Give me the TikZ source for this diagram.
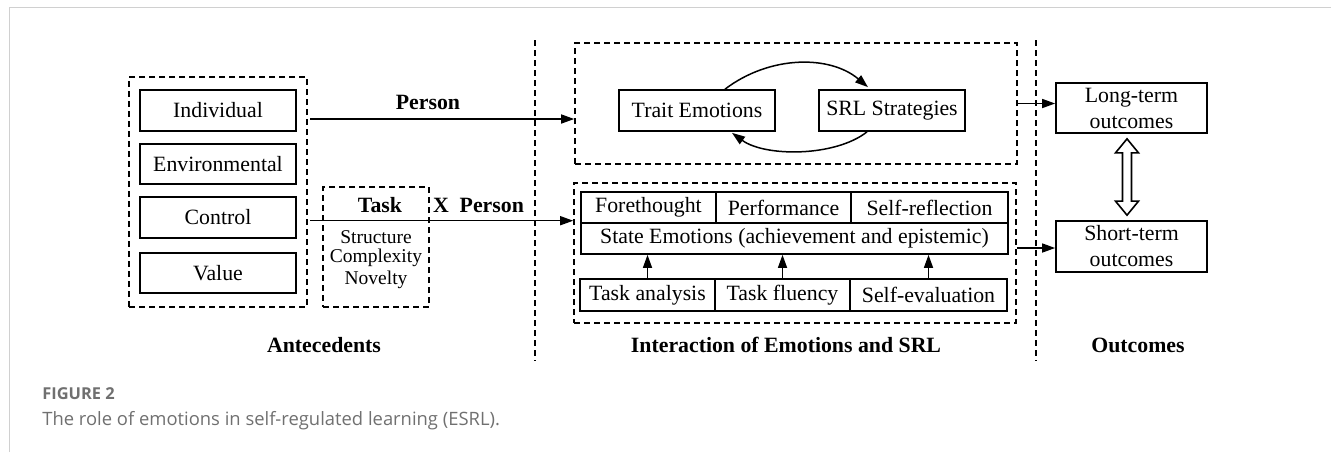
\documentclass[tikz,border=0pt]{standalone}
\usepackage{fontspec}
\setmainfont{Liberation Serif}
\newfontfamily\capfont{Open Sans}
\usetikzlibrary{calc,arrows.meta}
\definecolor{capgray}{HTML}{707070}
\definecolor{framegray}{HTML}{D0D0D0}
\begin{document}
\begin{tikzpicture}[x=0.5pt,y=-0.5pt,
  txt/.style={font=\fontsize{10.9}{13}\selectfont},
  bx/.style={draw, line width=0.85pt, inner sep=0pt, txt, align=center},
  dbox/.style={draw, line width=0.8pt, dash pattern=on 3pt off 2pt, inner sep=0pt},
  dline/.style={line width=0.8pt, dash pattern=on 3pt off 2pt},
  lbl/.style={font=\fontsize{10.9}{13}\selectfont\bfseries, inner sep=0pt},
  arr/.style={line width=0.75pt, -{Triangle[length=6.5pt,width=4.5pt]}},
  small/.style={font=\fontsize{9.75}{11}\selectfont, inner sep=0pt}
]
\useasboundingbox (0,0) rectangle (1331,452);
% frame
\draw[framegray, line width=0.8pt] (9.5,452) -- (9.5,7.5) -- (1331,7.5);

% Antecedents
\node[dbox, minimum width=89pt, minimum height=115pt] (ant) at (218,192) {};
\node[bx, minimum width=78pt, minimum height=20.5pt] (ind) at (218,110.5) {Individual};
\node[bx, minimum width=78pt, minimum height=20pt] (env) at (218,164) {Environmental};
\node[bx, minimum width=78pt, minimum height=20.5pt] (con) at (218,217.5) {Control};
\node[bx, minimum width=78pt, minimum height=20pt] (val) at (218,273) {Value};

% Task
\node[dbox, minimum width=53pt, minimum height=60pt] (task) at (376,247) {};
\node[lbl] (tasklbl) at (380,205) {Task};
\node[small] (struct) at (376,237) {Structure};
\node[small] (compl) at (376,258) {Complexity};
\node[small] (nov) at (376,280) {Novelty};

% Vertical dashed lines
\coordinate (v1t) at (535,40);
\coordinate (v1b) at (535,361);
\coordinate (v2t) at (1036,40);
\coordinate (v2b) at (1036,361);
\draw[dline] (v1t) -- (v1b);
\draw[dline] (v2t) -- (v2b);

% Top interaction box
\node[dbox, minimum width=221pt, minimum height=60.5pt] (tbox) at (796,103.5) {};
\node[bx, minimum width=78pt, minimum height=20.5pt] (trait) at (697,110.5) {Trait Emotions};
\node[bx, minimum width=73pt, minimum height=20.5pt] (srl) at (892,110.5) {SRL Strategies};
\draw[arr] ([xshift=14pt]trait.north) .. controls (770,55) and (830,55) .. ([xshift=-12pt,yshift=1pt]srl.north);
\draw[arr] ([xshift=-12.5pt]srl.south) .. controls (835,157) and (765,157) .. ([xshift=17.5pt,yshift=-0.5pt]trait.south);

% Bottom interaction box
\node[dbox, minimum width=221pt, minimum height=70pt] (bbox) at (795,253) {};
\node[bx, minimum width=67.5pt, minimum height=15.5pt] (fore) at (648.5,207.5) {Forethought};
\node[bx, minimum width=67.5pt, minimum height=15.5pt] (perf) at (783.5,207.5) {Performance};
\node[bx, minimum width=78.5pt, minimum height=15.5pt] (refl) at (929.5,207.5) {Self-reflection};
\node[bx, minimum width=213.5pt, minimum height=15.5pt] (state) at (794.5,238.5) {State Emotions (achievement and epistemic)};
\node[bx, minimum width=67.5pt, minimum height=16pt] (tana) at (647.5,295) {Task analysis};
\node[bx, minimum width=67.5pt, minimum height=16pt] (tflu) at (782.5,295) {Task fluency};
\node[bx, minimum width=78.5pt, minimum height=16pt] (seval) at (928.5,295) {Self-evaluation};
\draw[arr] (tana.north) -- (tana.north |- state.south);
\draw[arr] (tflu.north) -- (tflu.north |- state.south);
\draw[arr] (seval.north) -- (seval.north |- state.south);

% Antecedent arrows
\node[lbl] (personlbl) at (428,102) {Person};
\node[lbl] (xperson) at (478.5,205) {X\ \ Person};
\draw[arr] ([xshift=1pt,yshift=36.5pt]ant.east) coordinate (p1) -- (p1 -| tbox.west);
\draw[arr] ([xshift=1pt,yshift=-14.35pt]ant.east) coordinate (p2) -- (p2 -| bbox.west);

% Outcomes
\node[bx, minimum width=75.5pt, minimum height=25pt] (long) at (1131.5,108) {Long-term\\outcomes};
\node[bx, minimum width=75.5pt, minimum height=25.5pt] (short) at (1131.5,246.5) {Short-term\\outcomes};
\draw[arr] (tbox.east) coordinate (p3) -- (p3 -| long.west);
\draw[arr] ([yshift=2.5pt]bbox.east) coordinate (p4) -- (p4 -| short.west);

\coordinate (da) at ([xshift=-2.25pt,yshift=-2.5pt]long.south);
\coordinate (db) at ([xshift=-2.25pt,yshift=2.5pt]short.north);
\draw[line width=0.8pt, fill=white] (da) -- ($(da)+(11.5,14)$) -- ($(da)+(4.5,14)$) -- ($(db)+(4.5,-14)$) -- ($(db)+(11.5,-14)$) -- (db) -- ($(db)+(-11.5,-14)$) -- ($(db)+(-4.5,-14)$) -- ($(da)+(-4.5,14)$) -- ($(da)+(-11.5,14)$) -- cycle;

% Section labels
\node[lbl] (antlbl) at (324,345) {Antecedents};
\node[lbl] (intlbl) at (786,345) {Interaction of Emotions and SRL};
\node[lbl] (outlbl) at (1138,345) {Outcomes};

% Caption
\node[anchor=base west, inner sep=0pt, text=capgray, font=\capfont\fontsize{8.2}{10}\selectfont\bfseries] (figlbl) at (42,399) {FIGURE 2};
\node[anchor=base west, inner sep=0pt, text=capgray, font=\capfont\fontsize{9.2}{11}\selectfont] (caption) at (42,425) {The role of emotions in self-regulated learning (ESRL).};
\end{tikzpicture}
\end{document}
